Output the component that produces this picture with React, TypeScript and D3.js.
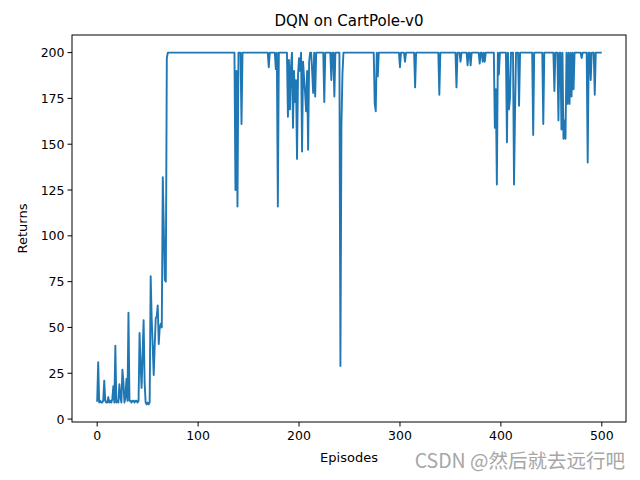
import React from "react";
import * as d3 from "d3";

const title = "DQN on CartPole-v0";
const xLabel = "Episodes";
const yLabel = "Returns";
const watermark = "CSDN @然后就去远行吧";

const xTicks = [0, 100, 200, 300, 400, 500];
const yTicks = [0, 25, 50, 75, 100, 125, 150, 175, 200];

// Returns per episode (0..499)
const returns0 = [10,31,9,10,9,9,10,21,10,9, 9,12,9,10,9,11,18,9,40,9, 10,9,19,12,9,27,20,9,12,22, 10,58,10,10,9,10,10,9,10,10, 9,10,47,30,17,35,54,20,9,8];
const returns1 = [9,8,9,78,55,40,24,40,55,56, 62,41,50,52,50,132,104,76,75,197, 200,200,200,200,200,200,200,200,200,200, 200,200,200,200,200,200,200,200,200,200, 200,200,200,200,200,200,200,200,200,200];
const returns2 = [200,200,200,200,200,200,200,200,200,200, 200,200,200,200,200,200,200,200,200,200, 200,200,200,200,200,200,200,200,200,200, 200,200,200,200,200,200,200,125,190,116, 200,200,200,161,200,200,200,200,200,200];
const returns3 = [200,200,200,200,200,200,200,200,200,200, 200,200,200,200,200,200,200,200,200,200, 192,200,200,200,200,200,200,191,200,116, 200,200,200,200,200,200,200,200,200,165, 196,169,192,200,159,190,173,185,142,188];
const returns4 = [197,190,200,146,195,186,178,168,190,147, 195,200,200,190,178,200,176,200,200,200, 200,200,200,200,200,173,200,200,200,200, 200,200,185,200,200,176,200,200,200,200, 200,29,160,188,200,200,200,200,200,200];
const returns5 = [200,200,200,200,200,200,200,200,200,200, 200,200,200,200,200,200,200,200,200,200, 200,200,200,200,200,172,168,200,187,200, 200,200,200,200,200,200,200,200,200,200, 200,200,200,200,200,200,200,200,200,200];
const returns6 = [192,200,200,200,200,195,200,200,200,200, 200,200,200,200,200,181,200,200,200,200, 200,200,200,200,200,200,200,200,200,200, 200,200,200,200,200,200,200,200,200,177, 200,200,200,200,200,200,200,200,200,200];
const returns7 = [200,200,200,200,200,200,181,200,200,200, 195,200,200,200,200,200,200,193,200,200, 193,200,200,200,200,200,200,200,200,194, 200,200,195,200,195,200,200,200,200,200, 200,200,200,200,159,180,128,200,188,200];
const returns8 = [200,200,200,200,200,200,151,200,169,175, 200,200,200,128,167,200,200,200,171,200, 200,200,200,200,200,200,200,200,200,200, 200,200,155,200,200,200,200,200,200,200, 200,200,161,200,200,200,200,200,200,200];
const returns9 = [200,200,200,179,200,200,200,163,200,200, 158,200,153,163,153,200,172,200,172,200, 176,200,180,200,200,200,200,200,200,200, 197,200,200,200,200,200,140,200,200,185, 200,200,200,177,200,200,200,200,200,200];

const returns = [
  ...returns0, ...returns1, ...returns2, ...returns3, ...returns4,
  ...returns5, ...returns6, ...returns7, ...returns8, ...returns9,
];

const W = 640;
const H = 480;
const left = 72;
const right = 626;
const top = 35;
const bottom = 422;

export default function App() {
  const n = returns.length;
  const xMin = 0, xMax = n - 1;
  const xPad = (xMax - xMin) * 0.05;
  const yMin = d3.min(returns) as number;
  const yMax = d3.max(returns) as number;
  const yPad = (yMax - yMin) * 0.05;
  const x = d3.scaleLinear().domain([xMin - xPad, xMax + xPad]).range([left, right]);
  const y = d3.scaleLinear().domain([yMin - yPad, yMax + yPad]).range([bottom, top]);
  const line = d3.line<number>().x((_, i) => x(i)).y((d) => y(d));
  const font = "DejaVu Sans, sans-serif";
  const tickLen = 4.5;

  return (
    <svg width={W} height={H} style={{ position: "absolute", left: 0, top: 0, background: "#fff" }}>
      <rect x={0} y={0} width={W} height={H} fill="#fff" />
      <path d={line(returns) || ""} fill="none" stroke="#1f77b4" strokeWidth={1.9} strokeLinejoin="round" strokeLinecap="square" />
      <rect x={left} y={top} width={right - left} height={bottom - top} fill="none" stroke="#000" strokeWidth={1} />
      {xTicks.map((t) => (
        <g key={"x" + t}>
          <line x1={x(t)} x2={x(t)} y1={bottom} y2={bottom + tickLen} stroke="#000" strokeWidth={1} />
          <text x={x(t)} y={bottom + tickLen + 4} dy="0.76em" textAnchor="middle" fontFamily={font} fontSize={12.5} fill="#000">{t}</text>
        </g>
      ))}
      {yTicks.map((t) => (
        <g key={"y" + t}>
          <line x1={left - tickLen} x2={left} y1={y(t)} y2={y(t)} stroke="#000" strokeWidth={1} />
          <text x={left - tickLen - 3} y={y(t)} dy="0.36em" textAnchor="end" fontFamily={font} fontSize={12.5} fill="#000">{t}</text>
        </g>
      ))}
      <text x={(left + right) / 2} y={top - 9} textAnchor="middle" fontFamily={font} fontSize={15} fill="#000">{title}</text>
      <text x={(left + right) / 2} y={462} textAnchor="middle" fontFamily={font} fontSize={13} fill="#000">{xLabel}</text>
      <text transform={`translate(27,${(top + bottom) / 2}) rotate(-90)`} textAnchor="middle" fontFamily={font} fontSize={13} fill="#000">{yLabel}</text>
      <text x={625} y={468} textAnchor="end" fontFamily="Noto Sans CJK SC, sans-serif" fontSize={19.5} fill="#a6a6a6">{watermark}</text>
    </svg>
  );
}
